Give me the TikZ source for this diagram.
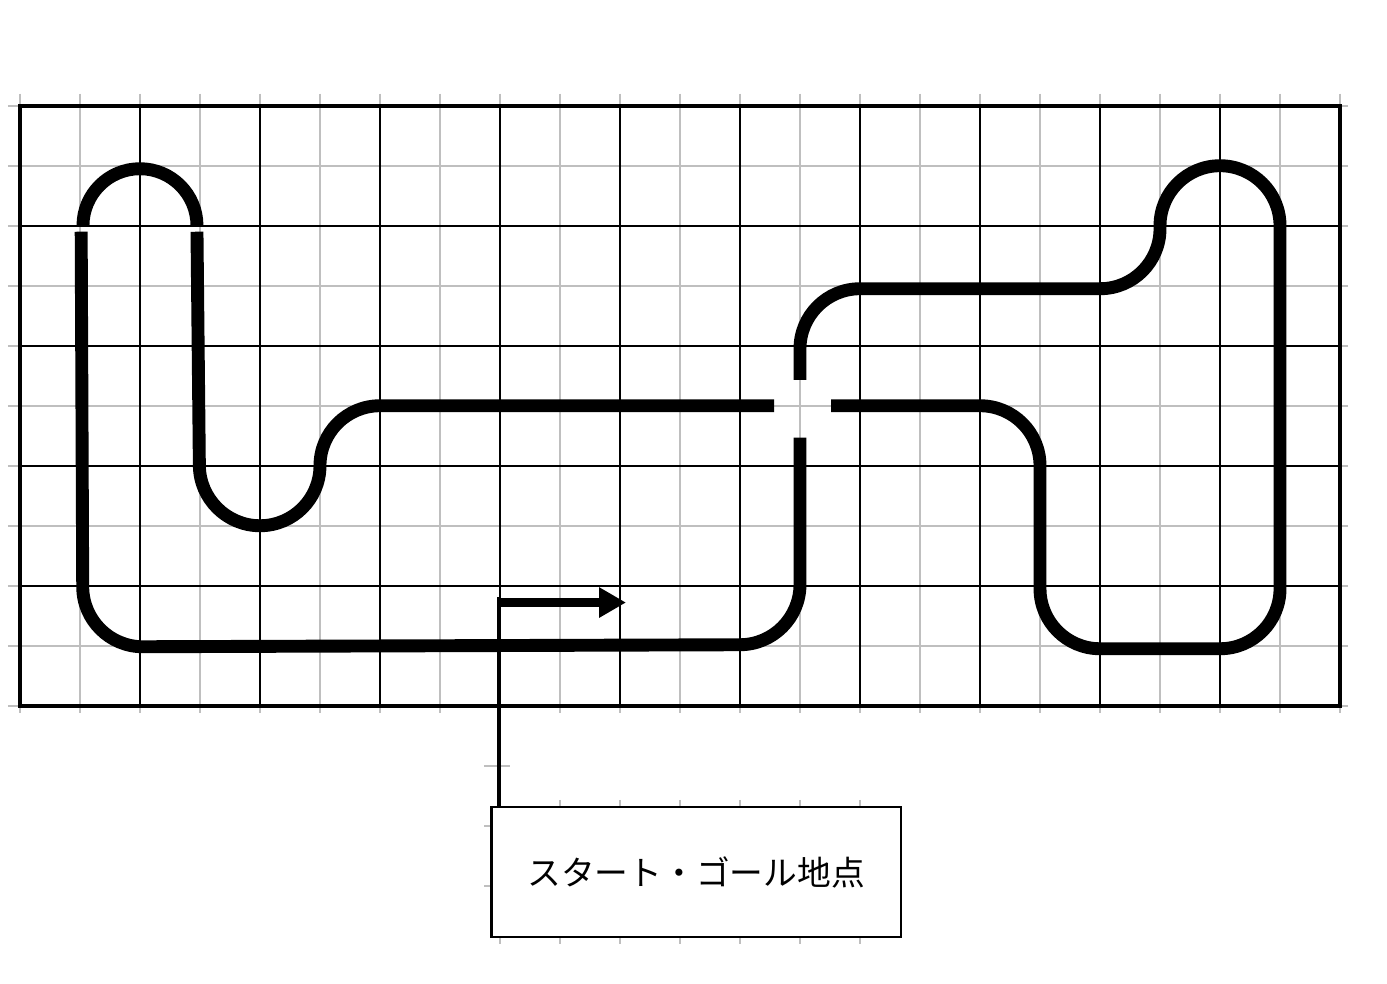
\documentclass[tikz,border=0pt]{standalone}
\usepackage{fontspec}
\newfontfamily\jpfont{Noto Sans CJK JP}
\usetikzlibrary{arrows.meta}
\begin{document}
\begin{tikzpicture}[x=1cm,y=-1cm,
  minor/.style={draw=gray!50,line width=0.035cm},
  major/.style={draw=black,line width=0.035cm},
  frame/.style={draw=black,line width=0.065cm},
  track/.style={draw=black,line width=0.215cm,rounded corners=1cm},
  labelbox/.style={draw=black,fill=white,line width=0.04cm,minimum width=6.82cm,minimum height=2.16cm,inner sep=0pt,font=\jpfont\fontsize{16pt}{18pt}\selectfont},
  leader/.style={draw=black,line width=0.065cm},
  startarrow/.style={draw=black,line width=0.14cm,-{Triangle[length=0.45cm,width=0.48cm]}}]
\useasboundingbox (-0.333,-1.762) rectangle (22.783,14.622);
% light grid
\foreach \i in {0,...,22} \draw[minor] (\i,-0.2) -- (\i,10.12);
\foreach \j in {0,...,10} \draw[minor] (-0.2,\j) -- (22.13,\j);
% dark grid
\foreach \i in {2,4,...,20} \draw[major] (\i,0) -- (\i,10);
\foreach \j in {2,4,6,8} \draw[major] (0,\j) -- (22,\j);
\draw[frame] (0,0) rectangle (22,10);
% small grid remnants near the label
\foreach \i in {9,...,14} \draw[minor] (\i,11.57) -- (\i,11.69);
\foreach \i in {8,...,14} \draw[minor] (\i,13.85) -- (\i,13.97);
\foreach \j in {12,13} \draw[minor] (7.74,\j) -- (7.86,\j);
\draw[minor] (7.73,11) -- (8.17,11);
% track
\draw[track,rounded corners=0.95cm] (1.05,2) -- (1.05,1.05) -- (2.95,1.05) -- (2.95,2);
\draw[track] (1.02,2.1) -- (1.05,9.02) -- (13,8.98) -- (13,5.53);
\draw[track] (2.95,2.1) -- (3,7) -- (5,7) -- (5,5) -- (12.57,5);
\draw[track] (13,4.57) -- (13,3.05) -- (19,3.05) -- (19,1.0) -- (21,1.0) -- (21,9.05) -- (17,9.05) -- (17,5) -- (13.52,5);
% start/goal marker
\node[labelbox] (label) at (11.27,12.77) {スタート・ゴール地点};
\coordinate (arrowstart) at (7.98,8.28);
\coordinate (arrowend) at (10.1,8.28);
\coordinate (leadertop) at (7.98,8.18);
\draw[leader] (leadertop) -- (leadertop |- label.north);
\draw[startarrow] (arrowstart) -- (arrowend);
\end{tikzpicture}
\end{document}
